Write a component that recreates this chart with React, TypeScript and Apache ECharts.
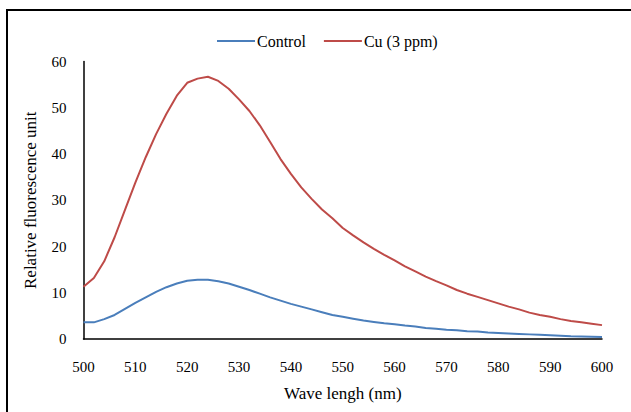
import React, { useEffect, useRef } from "react";
import * as echarts from "echarts";

const wavelengths: number[] = [
  500, 502, 504, 506, 508, 510, 512, 514, 516, 518, 520, 522, 524, 526, 528, 530, 532, 534, 536, 538,
  540, 542, 544, 546, 548, 550, 552, 554, 556, 558, 560, 562, 564, 566, 568, 570, 572, 574, 576, 578,
  580, 582, 584, 586, 588, 590, 592, 594, 596, 598, 600,
];

const controlValues: number[] = [
  3.6, 3.6, 4.3, 5.2, 6.5, 7.8, 9.0, 10.2, 11.2, 12.0, 12.6, 12.8, 12.8, 12.5, 12.0, 11.3, 10.6, 9.8, 9.0, 8.3,
  7.6, 7.0, 6.4, 5.8, 5.2, 4.8, 4.4, 4.0, 3.7, 3.4, 3.2, 2.9, 2.7, 2.4, 2.2, 2.0, 1.9, 1.7, 1.6, 1.4,
  1.3, 1.2, 1.1, 1.0, 0.9, 0.8, 0.7, 0.6, 0.55, 0.5, 0.45,
];

const cuValues: number[] = [
  11.3, 13.2, 16.8, 22.0, 27.9, 33.8, 39.3, 44.3, 48.7, 52.6, 55.4, 56.3, 56.7, 55.8, 54.1, 51.8, 49.3, 46.2, 42.6, 38.9,
  35.7, 32.8, 30.3, 28.0, 26.1, 24.0, 22.4, 20.9, 19.5, 18.2, 17.0, 15.7, 14.6, 13.5, 12.5, 11.6, 10.6, 9.8, 9.1, 8.4,
  7.7, 7.0, 6.4, 5.7, 5.2, 4.8, 4.3, 3.9, 3.6, 3.3, 3.0,
];

const seriesNames: string[] = ["Control", "Cu (3 ppm)"];
const xTitle = "Wave lengh (nm)";
const yTitle = "Relative fluorescence unit";

export default function App() {
  const ref = useRef<HTMLDivElement>(null);
  useEffect(() => {
    if (!ref.current) return;
    const chart = echarts.init(ref.current, undefined, { renderer: "svg" });
    const font = "Times New Roman, Liberation Serif, serif";
    chart.setOption({
      animation: false,
      backgroundColor: "#ffffff",
      textStyle: { fontFamily: font },
      graphic: [
        {
          type: "rect",
          shape: { x: 7, y: 10, width: 660, height: 430 },
          style: { fill: "none", stroke: "#000", lineWidth: 2 },
          silent: true,
        },
      ],
      legend: {
        top: 28,
        left: 212,
        itemWidth: 38,
        itemHeight: 2,
        itemGap: 18,
        icon: "rect",
        textStyle: { fontFamily: font, fontSize: 16, color: "#000", padding: [0, 0, 0, -3] },
        data: seriesNames,
      },
      grid: { left: 83.5, right: 29, top: 61.5, bottom: 73, containLabel: false },
      xAxis: {
        type: "value",
        min: 500,
        max: 600,
        interval: 10,
        name: xTitle,
        nameLocation: "middle",
        nameGap: 46,
        nameTextStyle: { fontFamily: font, fontSize: 17, color: "#000" },
        axisLine: { show: true, lineStyle: { color: "#000", width: 1.5 } },
        axisTick: { show: false },
        splitLine: { show: false },
        axisLabel: { fontFamily: font, fontSize: 15, color: "#000", margin: 20 },
      },
      yAxis: {
        type: "value",
        min: 0,
        max: 60,
        interval: 10,
        name: yTitle,
        nameLocation: "middle",
        nameGap: 45,
        nameTextStyle: { fontFamily: font, fontSize: 17, color: "#000" },
        axisLine: { show: true, lineStyle: { color: "#000", width: 1.5 } },
        axisTick: { show: false },
        splitLine: { show: false },
        axisLabel: { fontFamily: font, fontSize: 15, color: "#000", margin: 17 },
      },
      series: [
        {
          name: seriesNames[0],
          type: "line",
          showSymbol: false,
          data: wavelengths.map((w, i) => [w, controlValues[i]]),
          lineStyle: { color: "#4a7ebb", width: 2 },
          itemStyle: { color: "#4a7ebb" },
        },
        {
          name: seriesNames[1],
          type: "line",
          showSymbol: false,
          data: wavelengths.map((w, i) => [w, cuValues[i]]),
          lineStyle: { color: "#be4b48", width: 2 },
          itemStyle: { color: "#be4b48" },
        },
      ],
    });
    return () => chart.dispose();
  }, []);
  return (
    <div
      ref={ref}
      style={{ position: "fixed", left: 0, top: 0, width: 631, height: 412, background: "#fff" }}
    />
  );
}
